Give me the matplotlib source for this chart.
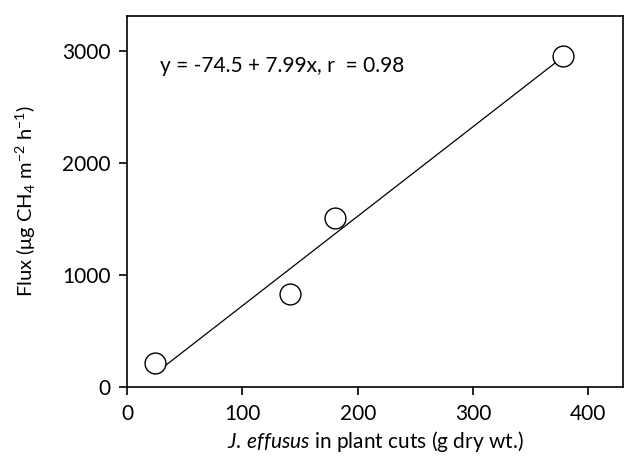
import matplotlib
matplotlib.use("Agg")
import matplotlib.pyplot as plt
import numpy as np

plt.rcParams['font.family'] = ['Lato', 'DejaVu Sans']
plt.rcParams['mathtext.fontset'] = 'custom'
plt.rcParams['mathtext.rm'] = 'Lato'
plt.rcParams['mathtext.it'] = 'Lato:italic'

# Plant biomass (g dry wt.) and methane flux
biomass = [24, 141, 180, 378]
flux = [214, 830, 1509, 2955]

# Regression coefficients
intercept = -74.5
slope = 7.99
r_value = 0.98

xticks = [0, 100, 200, 300, 400]
yticks = [0, 1000, 2000, 3000]

fig = plt.figure(figsize=(6.24, 4.73), dpi=100)
ax = fig.add_axes([127 / 624, 1 - 387 / 473, (623 - 127) / 624, (387 - 16) / 473])

xfit = np.array([min(biomass), max(biomass)])
ax.plot(xfit, intercept + slope * xfit, color='black', lw=0.9, zorder=2)
ax.plot(biomass, flux, 'o', ms=15, mfc='white', mec='black', mew=1.0, zorder=3)

ax.set_xlim(0, 430)
ax.set_ylim(0, 3310)
ax.set_xticks(xticks)
ax.set_yticks(yticks)
ax.tick_params(direction='out', length=6, width=1.2, labelsize=15, pad=6)
for s in ax.spines.values():
    s.set_linewidth(1.2)

ax.text(29, 2860, f"y = {intercept} + {slope}x, r  = {r_value}", fontsize=15, va='center')

ax.set_xlabel(r"$\mathit{J.\,effusus}$ in plant cuts (g dry wt.)", fontsize=15, labelpad=4)
ax.set_ylabel(r"Flux ($\mathrm{\mu}$g CH$_4$ m$^{-2}$ h$^{-1}$)", fontsize=14.5, labelpad=17)

fig.savefig("out.png", dpi=100)
